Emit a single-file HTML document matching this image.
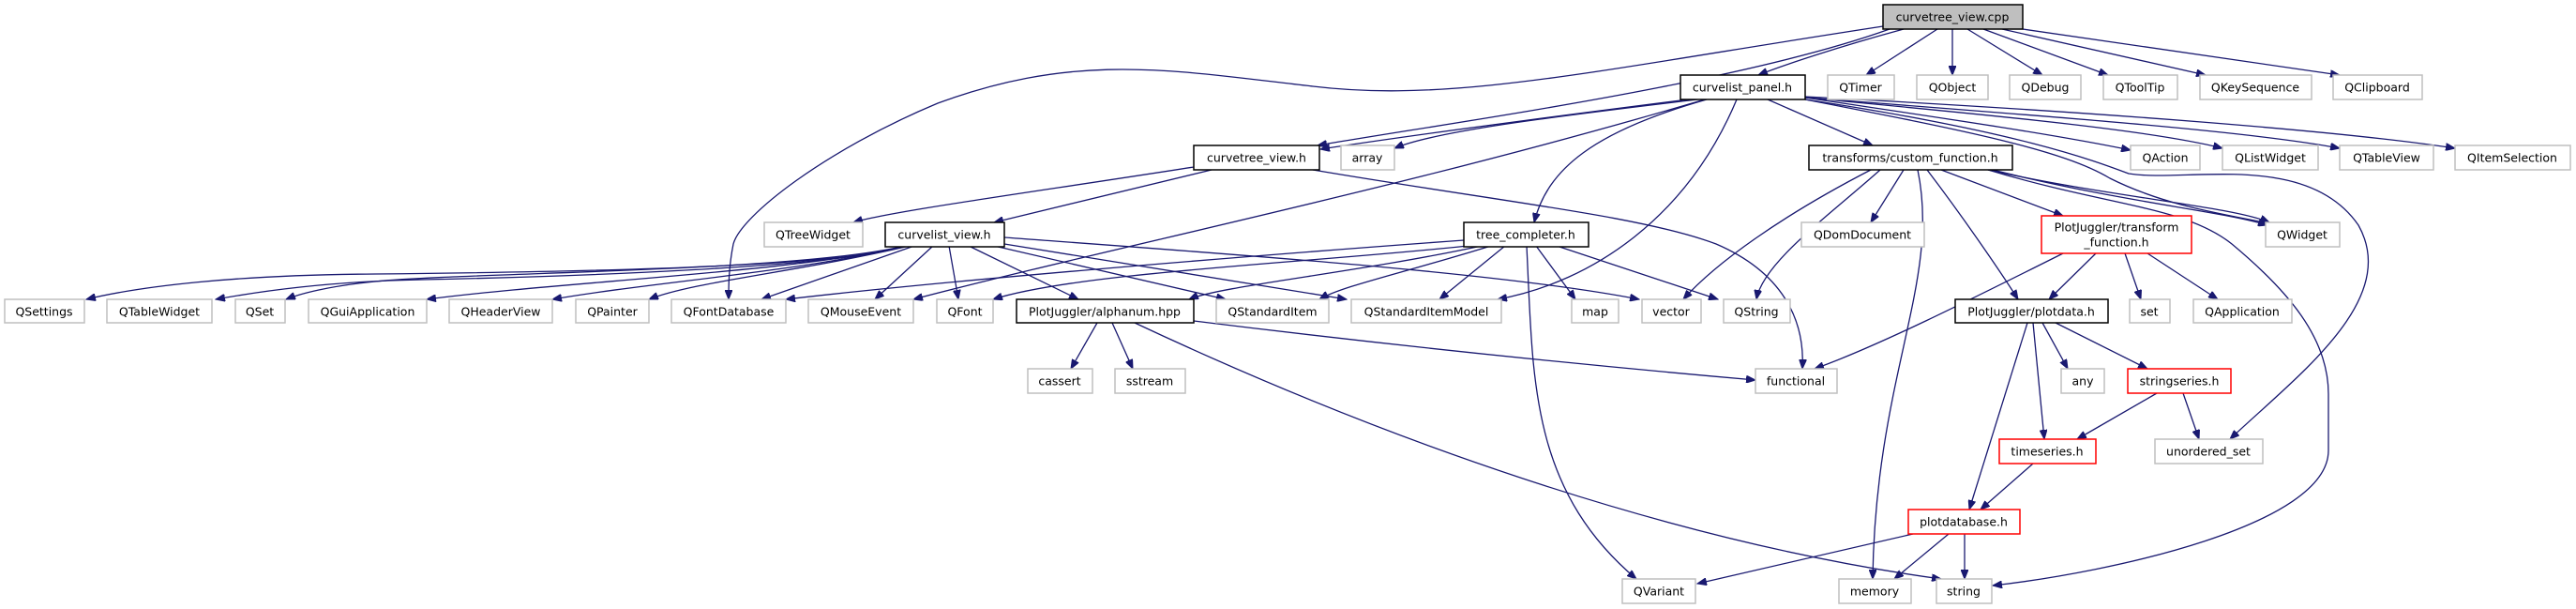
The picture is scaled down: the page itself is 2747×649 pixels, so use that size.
<!DOCTYPE html>
<html><head><meta charset="utf-8"><style>
html,body{margin:0;padding:0;background:#fff;}
svg{display:block;}
text{font-family:"DejaVu Sans","Liberation Sans",sans-serif;font-size:12.5px;fill:#000;text-anchor:middle;dominant-baseline:central;}
.e{fill:none;stroke:#191970;stroke-width:1.3;marker-end:url(#a);}
.g{fill:#fff;stroke:#bfbfbf;stroke-width:1.5;}
.b{fill:#fff;stroke:#000;stroke-width:1.5;}
.r{fill:#fff;stroke:#ff0000;stroke-width:1.5;}
</style></head><body>
<svg width="2747" height="649" viewBox="0 0 2747 649" xmlns="http://www.w3.org/2000/svg">
<defs><marker id="a" markerUnits="userSpaceOnUse" markerWidth="11" markerHeight="8" refX="10" refY="4" orient="auto"><path d="M0,0 L10,4 L0,8 z" fill="#191970" stroke="#191970"/></marker></defs>

<!-- edges -->
<path class="e" d="M2030,31 C1960,50 1900,70 1875,80"/>
<path class="e" d="M2066,31 L1990,80"/>
<path class="e" d="M2082,31 L2082,80"/>
<path class="e" d="M2098,31 L2178,80"/>
<path class="e" d="M2115,31 L2248,80"/>
<path class="e" d="M2135,31 L2352,80"/>
<path class="e" d="M2157,31 L2495,80"/>
<path class="e" d="M2015,31 C1850,90 1550,130 1405,155"/>
<path class="e" d="M2008,28 C1700,75 1550,110 1400,92 C1250,75 1150,55 1000,110 C880,160 790,230 782,260 C777,285 777,305 777,319"/>

<path class="e" d="M1800,106 C1650,125 1500,145 1408,159"/>
<path class="e" d="M1810,106 C1650,125 1530,140 1487,158"/>
<path class="e" d="M1818,106 C1500,200 1200,260 974,319"/>
<path class="e" d="M1820,106 C1700,140 1650,180 1636,237"/>
<path class="e" d="M1852,106 C1800,230 1700,300 1597,319"/>
<path class="e" d="M1885,106 L1997,155"/>
<path class="e" d="M1925,104 C2100,130 2200,145 2272,160"/>
<path class="e" d="M1925,104 C2150,125 2300,140 2370,158"/>
<path class="e" d="M1925,104 C2200,125 2400,140 2495,158"/>
<path class="e" d="M1925,103 C2250,120 2500,140 2618,158"/>
<path class="e" d="M1925,106 C2100,140 2200,160 2250,190 C2300,215 2350,225 2420,238"/>
<path class="e" d="M1925,106 C2150,140 2230,170 2270,185 C2330,195 2460,160 2515,240 C2560,320 2450,400 2378,468"/>

<path class="e" d="M1273,178 C1100,205 950,225 910,237"/>
<path class="e" d="M1292,181 L1060,237"/>
<path class="e" d="M1400,181 C1600,215 1750,230 1830,260 C1900,290 1925,340 1922,393"/>

<path class="e" d="M965,262 C900,285 600,290 400,292 C250,293 150,305 92,319"/>
<path class="e" d="M965,262 C900,285 600,295 450,298 C350,300 280,310 230,319"/>
<path class="e" d="M965,262 C850,290 500,290 400,300 C350,305 320,313 305,319"/>
<path class="e" d="M966,262 C850,290 600,300 455,319"/>
<path class="e" d="M968,262 C850,290 700,300 589,319"/>
<path class="e" d="M970,262 C850,290 740,300 692,319"/>
<path class="e" d="M975,262 L812,319"/>
<path class="e" d="M995,262 L933,319"/>
<path class="e" d="M1012,262 L1022,319"/>
<path class="e" d="M1033,262 L1150,319"/>
<path class="e" d="M1060,262 L1307,319"/>
<path class="e" d="M1071,260 L1436,319"/>
<path class="e" d="M1071,253 C1300,270 1600,290 1748,319"/>

<path class="e" d="M1561,256 C1300,275 1000,300 838,319"/>
<path class="e" d="M1565,262 C1400,280 1150,290 1059,319"/>
<path class="e" d="M1580,262 C1450,290 1300,305 1268,319"/>
<path class="e" d="M1590,262 C1500,290 1430,305 1407,319"/>
<path class="e" d="M1605,262 L1535,319"/>
<path class="e" d="M1638,262 L1680,319"/>
<path class="e" d="M1660,262 L1832,319"/>
<path class="e" d="M1628,262 C1635,400 1630,520 1745,617"/>

<path class="e" d="M1170,344 L1142,393"/>
<path class="e" d="M1186,344 L1208,393"/>
<path class="e" d="M1273,342 C1500,370 1700,390 1872,405"/>
<path class="e" d="M1210,344 C1500,480 1800,580 2070,617"/>

<path class="e" d="M1995,181 C1900,230 1830,280 1795,319"/>
<path class="e" d="M2005,181 C1950,230 1880,280 1873,319"/>
<path class="e" d="M2030,181 L1995,237"/>
<path class="e" d="M2045,181 C2070,300 2000,400 1997,617"/>
<path class="e" d="M2055,181 C2100,240 2140,300 2152,319"/>
<path class="e" d="M2070,181 L2200,230"/>
<path class="e" d="M2120,181 C2250,210 2380,220 2420,237"/>
<path class="e" d="M2125,181 C2260,215 2370,225 2418,240"/>
<path class="e" d="M2120,181 C2250,220 2330,220 2380,260 C2440,310 2483,360 2483,420 L2483,480 C2483,560 2250,610 2125,624"/>

<path class="e" d="M2200,270 C2100,320 2000,370 1935,393"/>
<path class="e" d="M2235,270 L2185,319"/>
<path class="e" d="M2266,270 L2283,319"/>
<path class="e" d="M2290,270 L2365,319"/>

<path class="e" d="M2162,344 L2100,543"/>
<path class="e" d="M2168,344 L2180,468"/>
<path class="e" d="M2178,344 L2205,393"/>
<path class="e" d="M2192,344 L2290,393"/>
<path class="e" d="M2300,419 L2215,468"/>
<path class="e" d="M2328,419 L2345,468"/>
<path class="e" d="M2168,494 L2112,543"/>
<path class="e" d="M2040,569 L1810,622"/>
<path class="e" d="M2078,569 L2020,617"/>
<path class="e" d="M2095,569 L2095,617"/>

<!-- nodes -->
<rect x="2008" y="5" width="149" height="26" fill="#bfbfbf" stroke="#000" stroke-width="1.5"/><text x="2082" y="18">curvetree_view.cpp</text>

<rect class="b" x="1792" y="80" width="133" height="26"/><text x="1858" y="93">curvelist_panel.h</text>
<rect class="g" x="1949" y="80" width="71" height="26"/><text x="1984" y="93">QTimer</text>
<rect class="g" x="2044" y="80" width="76" height="26"/><text x="2082" y="93">QObject</text>
<rect class="g" x="2143" y="80" width="76" height="26"/><text x="2181" y="93">QDebug</text>
<rect class="g" x="2243" y="80" width="79" height="26"/><text x="2282" y="93">QToolTip</text>
<rect class="g" x="2346" y="80" width="119" height="26"/><text x="2405" y="93">QKeySequence</text>
<rect class="g" x="2488" y="80" width="95" height="26"/><text x="2535" y="93">QClipboard</text>

<rect class="b" x="1273" y="155" width="134" height="26"/><text x="1340" y="168">curvetree_view.h</text>
<rect class="g" x="1430" y="155" width="57" height="26"/><text x="1458" y="168">array</text>
<rect class="b" x="1929" y="155" width="217" height="26"/><text x="2037" y="168">transforms/custom_function.h</text>
<rect class="g" x="2272" y="155" width="74" height="26"/><text x="2309" y="168">QAction</text>
<rect class="g" x="2370" y="155" width="102" height="26"/><text x="2421" y="168">QListWidget</text>
<rect class="g" x="2495" y="155" width="100" height="26"/><text x="2545" y="168">QTableView</text>
<rect class="g" x="2618" y="155" width="123" height="26"/><text x="2679" y="168">QItemSelection</text>

<rect class="g" x="815" y="237" width="105" height="26"/><text x="867" y="250">QTreeWidget</text>
<rect class="b" x="944" y="237" width="127" height="26"/><text x="1007" y="250">curvelist_view.h</text>
<rect class="b" x="1561" y="237" width="133" height="26"/><text x="1627" y="250">tree_completer.h</text>
<rect class="g" x="1921" y="237" width="131" height="26"/><text x="1986" y="250">QDomDocument</text>
<rect class="r" x="2177" y="230" width="160" height="40"/><text x="2257" y="242">PlotJuggler/transform</text><text x="2257" y="258">_function.h</text>
<rect class="g" x="2416" y="237" width="79" height="26"/><text x="2455" y="250">QWidget</text>

<rect class="g" x="5" y="319" width="85" height="25"/><text x="47" y="332">QSettings</text>
<rect class="g" x="114" y="319" width="112" height="25"/><text x="170" y="332">QTableWidget</text>
<rect class="g" x="251" y="319" width="53" height="25"/><text x="277" y="332">QSet</text>
<rect class="g" x="329" y="319" width="126" height="25"/><text x="392" y="332">QGuiApplication</text>
<rect class="g" x="479" y="319" width="110" height="25"/><text x="534" y="332">QHeaderView</text>
<rect class="g" x="614" y="319" width="78" height="25"/><text x="653" y="332">QPainter</text>
<rect class="g" x="716" y="319" width="122" height="25"/><text x="777" y="332">QFontDatabase</text>
<rect class="g" x="862" y="319" width="112" height="25"/><text x="918" y="332">QMouseEvent</text>
<rect class="g" x="999" y="319" width="60" height="25"/><text x="1029" y="332">QFont</text>
<rect class="b" x="1084" y="319" width="189" height="25"/><text x="1178" y="332">PlotJuggler/alphanum.hpp</text>
<rect class="g" x="1297" y="319" width="120" height="25"/><text x="1357" y="332">QStandardItem</text>
<rect class="g" x="1441" y="319" width="160" height="25"/><text x="1521" y="332">QStandardItemModel</text>
<rect class="g" x="1676" y="319" width="50" height="25"/><text x="1701" y="332">map</text>
<rect class="g" x="1751" y="319" width="63" height="25"/><text x="1782" y="332">vector</text>
<rect class="g" x="1838" y="319" width="71" height="25"/><text x="1873" y="332">QString</text>
<rect class="b" x="2085" y="319" width="163" height="25"/><text x="2166" y="332">PlotJuggler/plotdata.h</text>
<rect class="g" x="2271" y="319" width="43" height="25"/><text x="2292" y="332">set</text>
<rect class="g" x="2339" y="319" width="105" height="25"/><text x="2391" y="332">QApplication</text>

<rect class="g" x="1096" y="393" width="69" height="26"/><text x="1130" y="406">cassert</text>
<rect class="g" x="1189" y="393" width="75" height="26"/><text x="1226" y="406">sstream</text>
<rect class="g" x="1872" y="393" width="87" height="26"/><text x="1915" y="406">functional</text>
<rect class="g" x="2198" y="393" width="46" height="26"/><text x="2221" y="406">any</text>
<rect class="r" x="2269" y="393" width="110" height="26"/><text x="2324" y="406">stringseries.h</text>

<rect class="r" x="2132" y="468" width="103" height="26"/><text x="2183" y="481">timeseries.h</text>
<rect class="g" x="2298" y="468" width="115" height="26"/><text x="2355" y="481">unordered_set</text>

<rect class="r" x="2035" y="543" width="119" height="26"/><text x="2094" y="556">plotdatabase.h</text>

<rect class="g" x="1730" y="617" width="78" height="26"/><text x="1769" y="630">QVariant</text>
<rect class="g" x="1961" y="617" width="77" height="26"/><text x="1999" y="630">memory</text>
<rect class="g" x="2065" y="617" width="59" height="26"/><text x="2094" y="630">string</text>
</svg>
</body></html>
